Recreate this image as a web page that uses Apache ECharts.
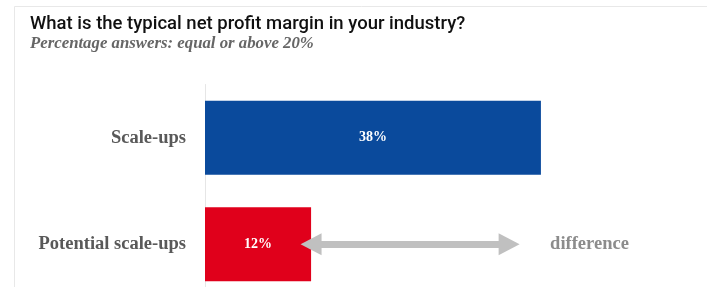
<!DOCTYPE html>
<html><head><meta charset="utf-8">
<script src="https://cdn.jsdelivr.net/npm/echarts@6/dist/echarts.min.js"></script>
<style>html,body{margin:0;padding:0;background:#fff}#c{width:707px;height:287px}</style>
</head><body><div id="c"></div>
<script>
const categories = ['Scale-ups', 'Potential scale-ups'];
const values = [38, 12];
const barColors = ['#0a4a9c', '#e0001b'];
const arrowRange = [12, 34.4];
const arrowLabel = 'difference';
const titleText = 'What is the typical net profit margin in your industry?';
const subtitleText = 'Percentage answers: equal or above 20%';

const chart = echarts.init(document.getElementById('c'), null, {renderer: 'canvas'});
chart.setOption({
  animation: false,
  backgroundColor: '#fff',
  title: {
    text: titleText,
    subtext: subtitleText,
    left: 25, top: 10,
    itemGap: 1,
    textStyle: {fontFamily: 'Roboto', fontWeight: 500, fontSize: 18.5, color: '#111'},
    subtextStyle: {fontFamily: 'Liberation Serif', fontStyle: 'italic', fontWeight: 'bold', fontSize: 16.8, color: '#666'}
  },
  graphic: [{
    type: 'rect', silent: true, z: -1,
    shape: {x: 14.5, y: 6.5, width: 800, height: 400},
    style: {fill: 'none', stroke: '#e8e8e8', lineWidth: 1}
  }],
  grid: {left: 205, top: 84.5, width: 442, height: 213, outerBoundsMode: 'none', containLabel: false},
  xAxis: {type: 'value', min: 0, max: 50, show: false},
  yAxis: {
    type: 'category', data: categories, inverse: true,
    axisLine: {show: true, lineStyle: {color: '#e6e6e6', width: 1}},
    axisTick: {show: false},
    axisLabel: {margin: 19, fontFamily: 'Liberation Serif', fontWeight: 'bold', fontSize: 18.5, color: '#595959'}
  },
  series: [{
    type: 'bar',
    barWidth: 74,
    data: values.map((v, i) => ({value: v, itemStyle: {color: barColors[i]}})),
    label: {show: true, position: 'inside', formatter: '{c}%', color: '#fff',
      fontFamily: 'Liberation Serif', fontWeight: 'bold', fontSize: 14},
    markLine: {
      silent: true,
      symbol: ['triangle', 'triangle'],
      symbolSize: [22, 21],
      lineStyle: {color: '#c0c0c0', width: 7, type: 'solid'},
      label: {show: true, position: 'end', formatter: arrowLabel, distance: 41,
        fontFamily: 'Liberation Serif', fontWeight: 'bold', fontSize: 18.5, color: '#8c8c8c'},
      data: [[{coord: [arrowRange[0], categories[1]]}, {coord: [arrowRange[1], categories[1]]}]]
    }
  }]
});
</script></body></html>
